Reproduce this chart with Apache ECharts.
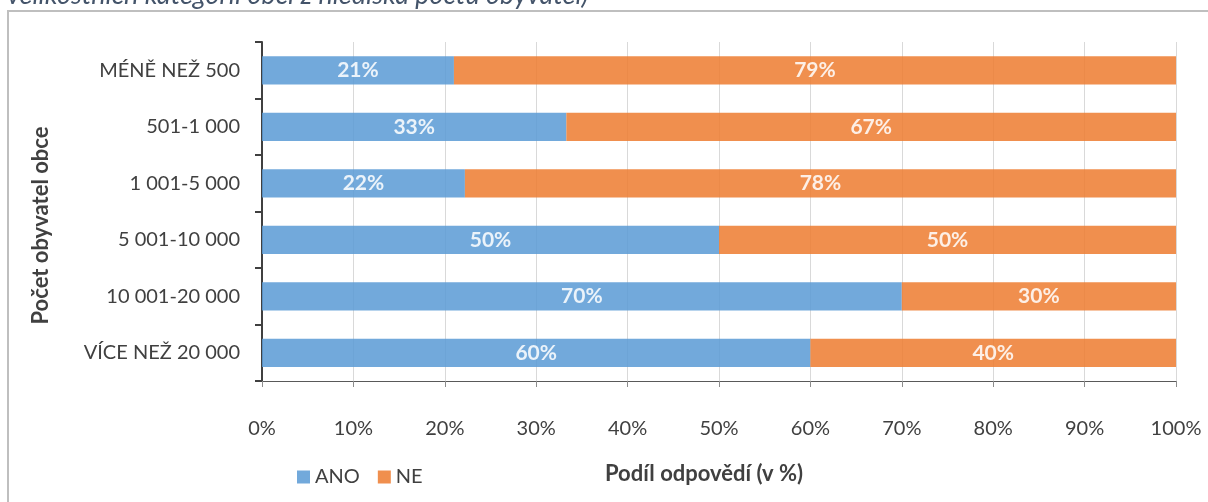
<!doctype html>
<html>
<head>
<meta charset="utf-8">
<title>Podíl odpovědí podle velikosti obce</title>
<script src="https://cdn.jsdelivr.net/npm/echarts@6/dist/echarts.min.js"></script>
<style>
html,body{margin:0;padding:0;background:#fff;}
#chart{width:1208px;height:502px;}
</style>
</head>
<body>
<div id="chart"></div>
<script>
var categories = ['MÉNĚ NEŽ 500', '501-1 000', '1 001-5 000', '5 001-10 000', '10 001-20 000', 'VÍCE NEŽ 20 000'];
var anoValues = [21, 33.3, 22.2, 50, 70, 60];
var neValues = [79, 66.7, 77.8, 50, 30, 40];
var xTicks = [0, 10, 20, 30, 40, 50, 60, 70, 80, 90, 100];

var font = 'Lato, "Open Sans", sans-serif';

function pctLabel(p){
	return Math.round(p.value) + '%';
}

var chart = echarts.init(document.getElementById('chart'));
var option = {
	animation: false,
	textStyle: {fontFamily: font},
	graphic: [
		{
			type: 'rect',
			shape: {x: 8, y: 11, width: 1400, height: 700},
			style: {fill: 'none', stroke: '#bfbfbf', lineWidth: 2},
			silent: true
		},
		{
			type: 'text',
			x: 7,
			y: 9,
			style: {
				text: 'velikostních kategorií obcí z hlediska počtu obyvatel)',
				font: 'italic 27px ' + font,
				fill: '#44546a',
				verticalAlign: 'bottom'
			},
			silent: true
		}
	],
	grid: {left: 262, right: 32, top: 42, bottom: 121},
	legend: {
		left: 292,
		top: 462,
		itemWidth: 13,
		itemHeight: 13,
		itemGap: 18,
		icon: 'rect',
		textStyle: {color: '#404040', fontSize: 20, fontFamily: font},
		data: ['ANO', 'NE']
	},
	xAxis: {
		type: 'value',
		min: 0,
		max: 100,
		interval: 10,
		name: 'Podíl odpovědí (v %)',
		nameLocation: 'middle',
		nameGap: 82,
		nameTextStyle: {color: '#404040', fontSize: 22, fontWeight: 'bold', padding: [0, 30, 0, 0]},
		axisLine: {show: true, lineStyle: {color: '#595959', width: 1}},
		axisTick: {show: true, length: 6, lineStyle: {color: '#8c8c8c'}},
		axisLabel: {
			color: '#404040',
			fontSize: 20,
			margin: 38,
			formatter: function(v){ return xTicks.indexOf(v) >= 0 ? v + '%' : ''; }
		},
		splitLine: {show: true, lineStyle: {color: '#d9d9d9', width: 1}}
	},
	yAxis: {
		type: 'category',
		inverse: true,
		data: categories,
		name: 'Počet obyvatel obce',
		nameLocation: 'middle',
		nameGap: 210,
		nameTextStyle: {color: '#404040', fontSize: 22, fontWeight: 'bold', padding: [0, 28, 0, 0]},
		axisLine: {show: true, lineStyle: {color: '#404040', width: 2}},
		axisTick: {show: true, length: 7, lineStyle: {color: '#404040', width: 2}},
		axisLabel: {color: '#404040', fontSize: 20, margin: 22}
	},
	series: [
		{
			name: 'ANO',
			type: 'bar',
			stack: 'all',
			barWidth: '50%',
			data: anoValues,
			itemStyle: {color: '#5b9bd5', opacity: 0.86},
			label: {show: true, position: 'inside', color: '#fff', fontSize: 21, fontWeight: 'bold', formatter: pctLabel}
		},
		{
			name: 'NE',
			type: 'bar',
			stack: 'all',
			barWidth: '50%',
			data: neValues,
			itemStyle: {color: '#ed7d31', opacity: 0.86},
			label: {show: true, position: 'inside', color: '#fff', fontSize: 21, fontWeight: 'bold', formatter: pctLabel}
		}
	]
};
chart.setOption(option);
</script>
</body>
</html>
